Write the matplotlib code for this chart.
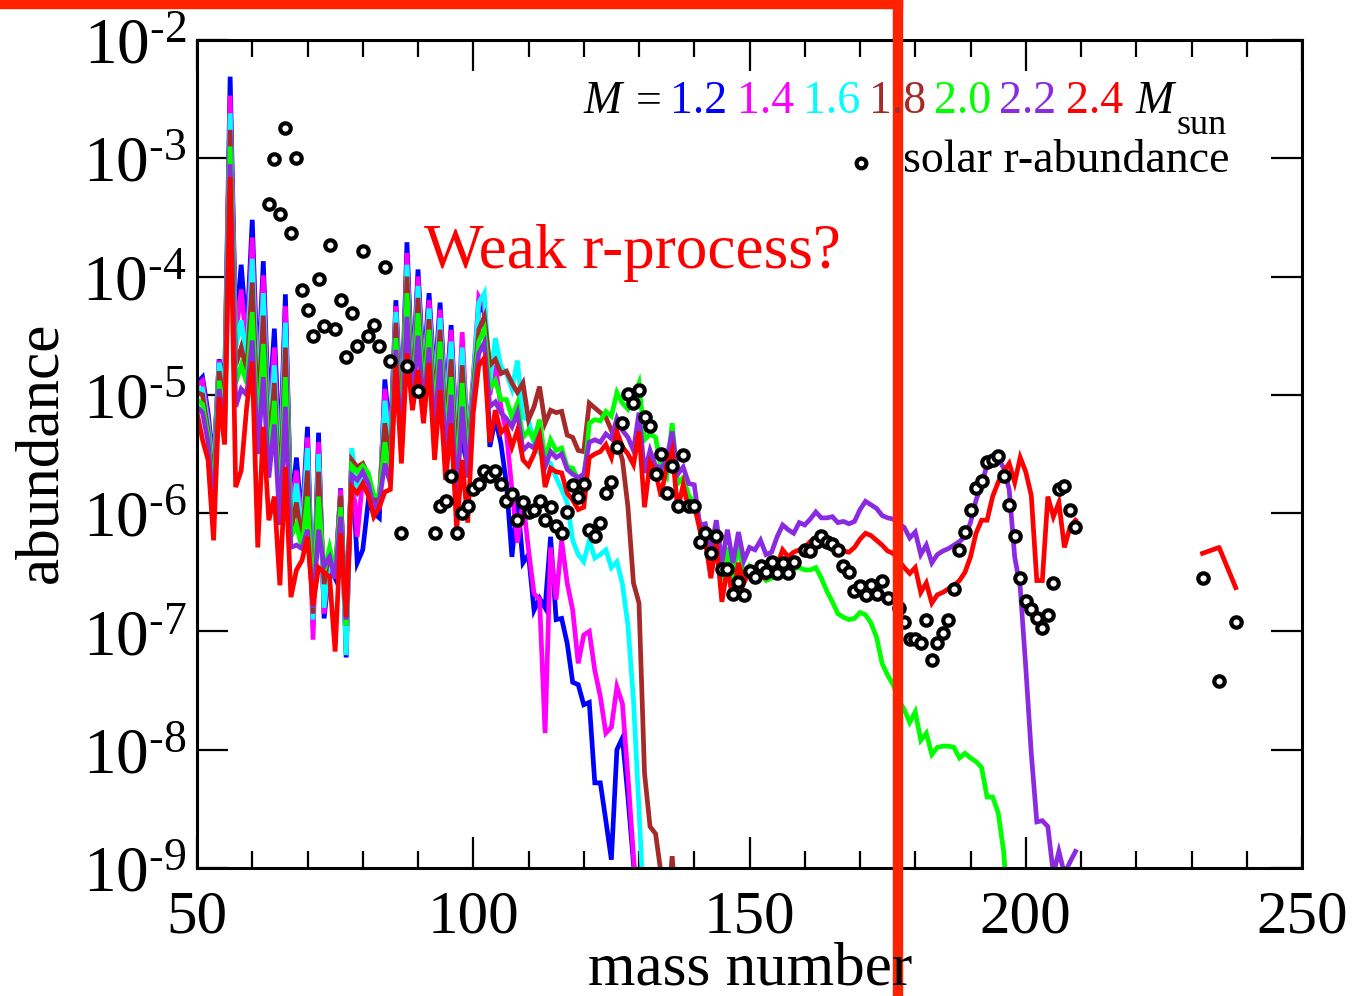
import numpy as np
import matplotlib.pyplot as plt
from matplotlib.lines import Line2D
from matplotlib.ticker import MultipleLocator, LogLocator, NullFormatter

plt.rcParams['font.family'] = ['Liberation Serif', 'DejaVu Serif']
plt.rcParams['mathtext.fontset'] = 'stix'

W, H = 1354, 996

# mass numbers shared by every model below A = 103
a_low = np.arange(50, 103)

# log10(abundance), A = 50 .. 102
blue_low = [-4.90, -4.85, -5.15, -5.60, -4.70, -4.90, -2.31, -4.45, -3.90, -4.50,
            -3.52, -4.90, -3.87, -5.20, -4.44, -5.60, -4.15, -6.00, -5.53, -6.10,
            -5.27, -6.95, -5.32, -6.89, -6.45, -6.55, -5.79, -7.22, -5.50, -6.42,
            -6.31, -5.90, -6.00, -6.04, -4.87, -5.40, -4.20, -5.20, -3.71, -4.90,
            -3.94, -4.80, -4.14, -4.90, -4.22, -5.10, -4.41, -5.40, -5.40, -5.60,
            -4.90, -4.25, -4.30]
magenta_low = [-4.92, -4.88, -5.20, -5.65, -4.71, -4.95, -2.47, -4.50, -4.11, -4.60,
               -3.67, -5.00, -3.99, -5.30, -4.60, -5.70, -4.25, -6.05, -5.64, -6.15,
               -5.36, -7.07, -5.40, -6.85, -6.40, -6.55, -5.80, -7.15, -5.48, -6.20,
               -5.70, -5.75, -5.95, -5.95, -4.95, -5.45, -4.25, -5.25, -3.80, -4.95,
               -4.00, -4.85, -4.20, -4.95, -4.28, -5.15, -4.45, -5.45, -4.47, -5.40,
               -4.85, -4.17, -4.25]
cyan_low = [-4.95, -4.95, -5.25, -5.70, -4.73, -5.00, -2.62, -4.60, -4.37, -4.70,
            -3.85, -5.10, -4.14, -5.40, -4.75, -5.80, -4.39, -6.10, -5.75, -6.20,
            -5.45, -6.90, -5.50, -6.80, -6.35, -6.55, -5.85, -7.20, -5.45, -5.80,
            -5.65, -5.70, -5.95, -5.90, -5.05, -5.50, -4.30, -5.30, -3.90, -5.00,
            -4.08, -4.90, -4.27, -5.00, -4.35, -5.20, -4.55, -5.50, -4.60, -5.45,
            -4.90, -4.22, -4.14]
brown_low = [-4.98, -5.00, -5.30, -5.80, -4.80, -5.10, -2.76, -4.75, -4.60, -4.80,
             -4.05, -5.20, -4.33, -5.50, -4.90, -5.90, -4.60, -6.15, -5.91, -6.25,
             -5.64, -6.85, -5.65, -6.60, -6.30, -6.55, -5.85, -6.95, -5.55, -5.61,
             -5.58, -5.68, -5.90, -5.85, -5.24, -5.60, -4.39, -5.35, -4.00, -5.05,
             -4.18, -4.95, -4.36, -5.10, -4.45, -5.30, -4.70, -5.60, -4.75, -5.55,
             -4.95, -4.45, -4.34]
green_low = [-5.04, -5.08, -5.35, -5.90, -4.88, -5.20, -2.90, -4.90, -4.75, -4.90,
             -4.30, -5.35, -4.57, -5.60, -5.05, -6.00, -4.85, -6.20, -6.10, -6.30,
             -5.86, -6.80, -5.86, -6.50, -6.29, -6.50, -5.95, -6.95, -5.60, -5.65,
             -5.60, -5.66, -5.85, -5.85, -5.40, -5.70, -4.52, -5.40, -4.14, -5.10,
             -4.31, -5.00, -4.45, -5.20, -4.55, -5.40, -4.85, -5.75, -4.90, -5.60,
             -5.00, -4.55, -4.45]
purple_low = [-5.10, -5.15, -5.40, -6.00, -4.95, -5.30, -3.05, -5.10, -4.95, -5.00,
              -4.54, -5.50, -4.85, -5.70, -5.25, -6.10, -5.10, -6.29, -6.27, -6.30,
              -6.14, -6.80, -6.14, -6.45, -6.37, -6.55, -6.03, -6.90, -5.68, -5.72,
              -5.65, -5.75, -5.95, -5.90, -5.58, -5.75, -4.62, -5.45, -4.34, -5.10,
              -4.50, -5.10, -4.60, -5.30, -4.70, -5.50, -5.00, -5.90, -5.10, -5.70,
              -5.05, -4.65, -4.56]
red_low = [-5.15, -5.38, -5.55, -6.23, -5.02, -5.42, -3.16, -5.78, -5.64, -5.10,
           -4.72, -6.29, -5.27, -6.06, -5.86, -6.61, -5.61, -6.71, -6.48, -6.40,
           -6.20, -6.78, -6.46, -6.50, -6.54, -7.17, -6.17, -6.88, -5.78, -5.83,
           -5.75, -5.85, -6.03, -5.95, -5.82, -5.80, -4.75, -5.58, -4.65, -5.13,
           -4.79, -5.24, -4.73, -5.55, -4.96, -5.72, -5.24, -6.14, -5.55, -6.08,
           -5.15, -4.75, -4.69]

# log10(abundance) from A = 103 upward, each model to its own end
blue_tail = [-5.44, -5.20, -5.41, -5.75, -6.37, -5.89, -6.42, -6.35, -6.82, -6.72,
             -6.80, -6.20, -6.90, -6.89, -7.10, -7.43, -7.45, -7.62, -7.60, -8.28,
             -8.28, -8.60, -8.93, -8.00, -7.90, -8.40, -8.96, -9.50]
magenta_tail = [-5.00, -4.75, -5.10, -5.32, -5.80, -6.25, -5.89, -6.31, -6.68, -6.73,
                -7.86, -6.29, -6.73, -6.23, -6.59, -6.82, -7.27, -7.03, -7.00, -7.33,
                -7.55, -7.86, -7.81, -7.47, -7.61, -8.23, -8.90, -9.50]
cyan_tail = [-4.90, -4.52, -4.76, -4.82, -4.95, -4.71, -5.19, -5.21, -5.41, -5.49,
             -5.55, -5.58, -5.70, -5.80, -5.91, -6.23, -6.35, -6.41, -6.23, -6.38,
             -6.35, -6.31, -6.46, -6.41, -6.60, -6.95, -7.58, -8.50, -9.50]
brown_tail = [-4.75, -4.70, -4.82, -4.80, -4.90, -4.98, -4.90, -5.21, -5.10, -4.93,
              -5.24, -5.13, -5.15, -5.14, -5.34, -5.36, -5.47, -5.48, -5.07, -5.11,
              -5.15, -5.19, -5.30, -5.40, -5.55, -5.95, -6.59, -6.76, -8.20, -8.65,
              -8.71, -9.05, -9.50, -8.90, -9.50]
green_tail = [-4.95, -4.88, -5.04, -5.04, -5.19, -5.07, -5.36, -5.30, -5.38, -5.21,
              -5.55, -5.38, -5.47, -5.45, -5.61, -5.62, -5.72, -5.75, -5.24, -5.21,
              -5.22, -5.14, -5.18, -4.98, -5.07, -5.12, -5.02, -4.90, -5.38, -5.33,
              -5.36, -5.62, -5.69, -5.24, -5.75, -5.70, -5.85, -5.91, -6.08, -6.20,
              -6.20, -6.17, -6.57, -6.29, -6.55, -6.23, -6.57, -6.45, -6.50, -6.52,
              -6.57, -6.55, -6.52, -6.50, -6.50, -6.47, -6.46, -6.48, -6.48, -6.46,
              -6.55, -6.66, -6.75, -6.85, -6.88, -6.90, -6.89, -6.84, -6.86, -6.93,
              -7.05, -7.27, -7.37, -7.45, -7.58, -7.66, -7.77, -7.68, -7.92, -7.86,
              -8.04, -7.98, -7.97, -7.97, -7.98, -8.07, -8.03, -8.07, -8.10, -8.15,
              -8.40, -8.40, -8.53, -8.86, -9.50]
purple_tail = [-5.10, -5.06, -5.15, -5.20, -5.27, -5.15, -5.47, -5.42, -5.45, -5.34,
               -5.61, -5.48, -5.53, -5.50, -5.63, -5.67, -5.70, -5.67, -5.40, -5.38,
               -5.40, -5.33, -5.37, -5.20, -5.30, -5.36, -5.47, -5.15, -5.66, -5.47,
               -5.60, -5.62, -5.55, -5.31, -5.67, -5.61, -5.75, -5.76, -6.10, -6.09,
               -6.31, -6.06, -6.42, -6.14, -6.42, -6.16, -6.40, -6.29, -6.31, -6.23,
               -6.35, -6.33, -6.20, -6.10, -6.14, -6.17, -6.08, -6.10, -6.05, -5.99,
               -6.04, -6.04, -6.03, -6.08, -6.07, -6.09, -6.07, -5.97, -5.90, -5.93,
               -5.96, -6.02, -6.04, -6.05, -6.09, -6.12, -6.21, -6.16, -6.35, -6.27,
               -6.42, -6.35, -6.32, -6.30, -6.27, -6.24, -6.20, -6.08, -5.89, -5.76,
               -5.59, -5.53, -5.53, -5.62, -5.80, -6.37, -6.63, -7.30, -8.03, -8.61,
               -8.60, -8.65, -9.05, -8.86, -9.05, -8.95, -8.86]
red_tail = [-5.40, -5.13, -5.32, -5.27, -5.44, -5.30, -5.55, -5.60, -5.50, -5.36,
            -5.78, -5.62, -5.65, -5.66, -5.83, -5.89, -5.97, -5.95, -5.53, -5.50,
            -5.48, -5.42, -5.53, -5.31, -5.44, -5.50, -5.59, -5.31, -5.95, -5.57,
            -5.65, -5.86, -5.60, -5.47, -5.97, -5.76, -5.97, -5.93, -6.14, -6.23,
            -6.55, -6.25, -6.75, -6.46, -6.73, -6.42, -6.59, -6.48, -6.52, -6.54,
            -6.55, -6.50, -6.44, -6.31, -6.37, -6.33, -6.31, -6.29, -6.24, -6.21,
            -6.20, -6.22, -6.23, -6.30, -6.32, -6.33, -6.29, -6.22, -6.17, -6.19,
            -6.23, -6.27, -6.32, -6.34, -6.40, -6.46, -6.51, -6.46, -6.67, -6.59,
            -6.76, -6.69, -6.67, -6.64, -6.61, -6.57, -6.50, -6.37, -6.17, -6.06,
            -6.06, -5.86, -5.74, -5.65, -5.58, -5.74, -5.53, -5.65, -5.85, -6.57,
            -6.57, -5.86, -6.03, -5.91, -6.29, -6.12, -6.06]
# separate actinide piece of the 2.4 Msun model
red_act_a = [232, 235, 238]
red_act = [-6.34, -6.29, -6.63]

# solar r-process abundances
solar_a = [63, 64, 65, 66, 67, 68, 69, 70, 71, 72, 73, 74, 75, 76, 77, 78, 79, 80, 81, 82,
           83, 84, 85, 87, 88, 90, 93, 94, 95, 96, 97, 98, 99, 100, 101, 102, 103, 104, 105, 106,
           107, 108, 109, 110, 111, 112, 113, 114, 115, 116, 117, 118, 119, 120, 121, 122, 123, 124, 125, 126,
           127, 128, 129, 130, 131, 132, 133, 134, 135, 136, 137, 138, 139, 140, 141, 142, 143, 144, 145, 146,
           147, 148, 149, 150, 151, 152, 153, 154, 155, 156, 157, 158, 160, 161, 162, 163, 164, 165, 166, 167,
           168, 169, 170, 171, 172, 173, 174, 175, 177, 178, 179, 180, 181, 182, 183, 184, 185, 186, 187, 188,
           189, 190, 191, 192, 193, 194, 195, 196, 197, 198, 199, 200, 201, 202, 203, 204, 205, 206, 207, 208,
           209, 232, 235, 238]
solar = [-3.39, -3.01, -3.47, -2.74, -3.63, -3.00, -4.11, -4.28, -4.50, -4.02, -4.42, -3.73, -4.44, -4.20, -4.68, -4.31, -4.59, -3.78, -4.50, -4.41,
         -4.59, -3.92, -4.71, -6.17, -4.76, -4.97, -6.17, -5.94, -5.90, -5.69, -6.17, -6.00, -5.94, -5.80, -5.75, -5.64, -5.69, -5.64, -5.75, -5.90,
         -5.84, -6.06, -5.91, -5.99, -5.97, -5.90, -6.06, -5.95, -6.11, -6.17, -5.99, -5.76, -5.86, -5.75, -6.14, -6.19, -6.08, -5.83, -5.74, -5.44,
         -5.24, -4.99, -5.07, -4.96, -5.19, -5.26, -5.67, -5.50, -5.83, -5.60, -5.94, -5.51, -5.94, -5.94, -6.24, -6.17, -6.34, -6.19, -6.47, -6.47,
         -6.68, -6.58, -6.69, -6.49, -6.54, -6.45, -6.50, -6.41, -6.51, -6.42, -6.51, -6.41, -6.31, -6.32, -6.24, -6.19, -6.24, -6.26, -6.31, -6.45,
         -6.50, -6.66, -6.62, -6.69, -6.61, -6.68, -6.57, -6.72, -6.80, -6.92, -7.06, -7.06, -7.10, -6.90, -7.24, -7.10, -7.01, -6.90, -6.64, -6.31,
         -6.16, -5.97, -5.79, -5.73, -5.57, -5.55, -5.52, -5.69, -5.93, -6.19, -6.55, -6.74, -6.81, -6.89, -6.97, -6.86, -6.59, -5.80, -5.77, -5.97,
         -6.12, -6.55, -7.42, -6.92]

masses = ['1.2', '1.4', '1.6', '1.8', '2.0', '2.2', '2.4']
colors = ['#0000ff', '#ff00ff', '#00ffff', '#a52a2a', '#00ff00', '#8a2be2', '#ff0000']
lows = [blue_low, magenta_low, cyan_low, brown_low, green_low, purple_low, red_low]
tails = [blue_tail, magenta_tail, cyan_tail, brown_tail, green_tail, purple_tail, red_tail]

fig = plt.figure(figsize=(W / 100, H / 100), dpi=100)
ax = fig.add_axes([197 / W, 1 - 868 / H, 1105 / W, 828 / H])

for low, tail, c in zip(lows, tails, colors):
    a = np.concatenate([a_low, np.arange(103, 103 + len(tail))])
    y = 10.0 ** np.array(low + tail)
    ax.plot(a, y, color=c, lw=3.4, solid_joinstyle='miter')
ax.plot(red_act_a, 10.0 ** np.array(red_act), color=colors[-1], lw=3.4)

ax.plot(solar_a, 10.0 ** np.array(solar), 'o', mfc='white', mec='black',
        ms=7.5, mew=3.0, zorder=5)

ax.set_xlim(50, 250)
ax.set_yscale('log')
ax.set_ylim(1e-9, 1e-2)
ax.set_xticks([50, 100, 150, 200, 250])
ax.xaxis.set_minor_locator(MultipleLocator(10))
decades = list(range(-9, -1))
ax.set_yticks([10.0 ** d for d in decades])
ax.set_yticklabels([r'$\mathregular{10^{\text{-}%d}}$' % abs(d) for d in decades])
ax.yaxis.set_minor_locator(LogLocator(base=10, subs=np.arange(2, 10)))
ax.yaxis.set_minor_formatter(NullFormatter())
ax.tick_params(which='both', direction='in', top=True, right=True, width=1.6)
ax.tick_params(which='major', length=22)
ax.tick_params(axis='x', which='major', pad=16, labelsize=44)
ax.tick_params(axis='y', which='major', pad=7, labelsize=47)
ax.tick_params(which='minor', length=12)
for s in ax.spines.values():
    s.set_linewidth(2.2)


def fx(px):
    return px / W


def fy(py):
    return 1 - py / H


fig.text(fx(750), fy(984), 'mass number', fontsize=44, ha='center', va='baseline')
fig.text(fx(42), fy(452), 'abundance', fontsize=44, rotation=90, ha='center', va='center')

# legend, coloured text line
fig.text(fx(584), fy(113), 'M', fontsize=33, style='italic', va='baseline')
fig.text(fx(636), fy(113), '=', fontsize=33, va='baseline')
for m, c, px in zip(masses, colors, [670, 737, 803, 869, 934, 999, 1066]):
    fig.text(fx(px), fy(113), m, fontsize=33, color=c, va='baseline')
fig.text(fx(1136), fy(113), 'M', fontsize=33, style='italic', va='baseline')
fig.text(fx(1177), fy(134), 'sun', fontsize=26, va='baseline')
fig.add_artist(Line2D([fx(861)], [fy(163)], marker='o', mfc='white', mec='black',
                      ms=7.0, mew=3.0, ls='none'))
fig.text(fx(903), fy(172), 'solar r-abundance', fontsize=33, va='baseline')

fig.text(fx(424), fy(268), 'Weak r-process?', fontsize=45.5, color='red', va='baseline')

# red frame drawn over the figure
fig.add_artist(Line2D([0, fx(898)], [fy(4.5), fy(4.5)], lw=7.5, color='#ff2200',
                      solid_capstyle='projecting'))
fig.add_artist(Line2D([fx(898), fx(898)], [1, 0], lw=7.5, color='#ff2200',
                      solid_capstyle='projecting'))

fig.savefig('out.png', dpi=100)
